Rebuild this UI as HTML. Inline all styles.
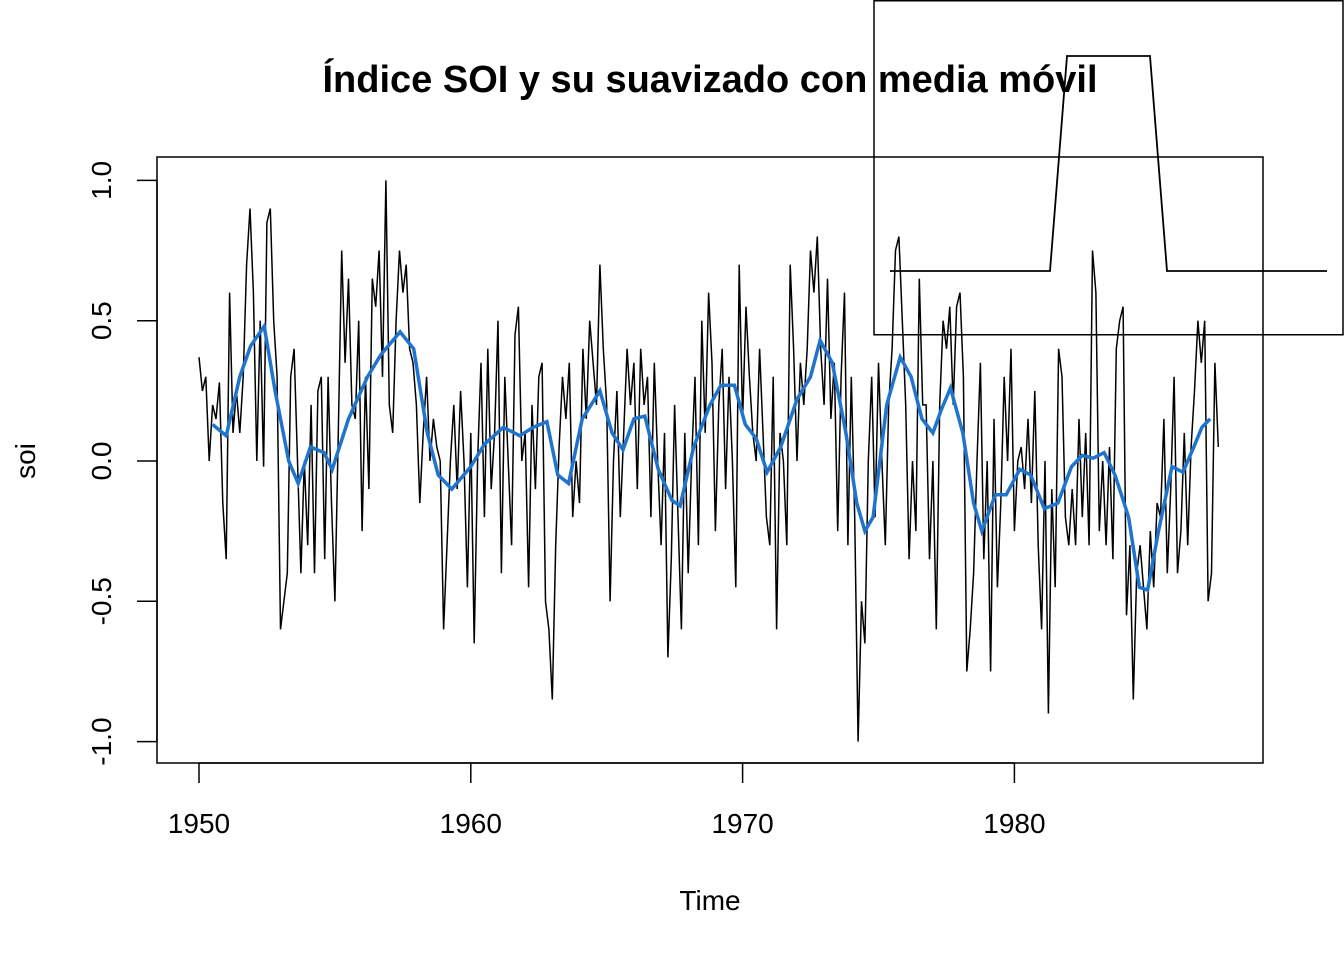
<!DOCTYPE html>
<html><head><meta charset="utf-8"><style>
html,body{margin:0;padding:0;background:#fff;}
svg{display:block;font-family:"Liberation Sans",Arial,sans-serif;}
</style></head><body>
<svg id="chart" width="1344" height="960" viewBox="0 0 1344 960" xmlns="http://www.w3.org/2000/svg">
<rect width="1344" height="960" fill="#fff"/>
<text x="710" y="92" text-anchor="middle" font-size="38" font-weight="bold">Índice SOI y su suavizado con media móvil</text>
<rect x="157" y="157" width="1106" height="606" fill="none" stroke="#000" stroke-width="1.5"/>
<g id="xaxis"></g>
<g id="yaxis"></g>
<text x="710" y="910" text-anchor="middle" font-size="28">Time</text>
<text transform="translate(35,461) rotate(-90)" text-anchor="middle" font-size="28">soi</text>
<path id="raw" fill="none" stroke="#000" stroke-width="1.5"/>
<path id="smooth" fill="none" stroke="#1f74cc" stroke-width="3.5"/>
<g>
<rect x="874" y="0.75" width="469" height="334" fill="#fff" fill-opacity="0" stroke="#000" stroke-width="1.5"/>
<polyline points="890,271 1050,271 1067,56 1150,56 1167,271 1327,271" fill="none" stroke="#000" stroke-width="1.8"/>
</g>
</svg>
<script>
const xTicks = [1950, 1960, 1970, 1980];
const yTicks = [-1.0, -0.5, 0.0, 0.5, 1.0];
const yTickLabels = ["-1.0", "-0.5", "0.0", "0.5", "1.0"];
const rawStart = 1950;
const rawStep = 0.125;
const rawValues = [
0.37,0.25,0.3,0.0,0.2,0.15,0.28,-0.15,
-0.35,0.6,0.1,0.25,0.1,0.3,0.7,0.9,
0.6,0.0,0.5,-0.02,0.85,0.9,0.5,0.3,
-0.6,-0.5,-0.4,0.3,0.4,0.0,-0.4,0.0,
-0.3,0.2,-0.4,0.25,0.3,-0.35,0.3,-0.15,
-0.5,0.1,0.75,0.35,0.65,0.2,0.15,0.5,
-0.25,0.3,-0.1,0.65,0.55,0.75,0.3,1.0,
0.2,0.1,0.5,0.75,0.6,0.7,0.4,0.35,
0.2,-0.15,0.1,0.3,0.0,0.15,0.05,0.0,
-0.6,-0.3,0.0,0.2,-0.1,0.25,0.0,-0.45,
0.1,-0.65,0.0,0.35,-0.2,0.4,-0.1,0.1,
0.5,-0.4,0.3,0.0,-0.3,0.45,0.55,0.0,
0.1,-0.45,0.2,-0.1,0.3,0.35,-0.5,-0.6,
-0.85,-0.3,0.05,0.3,0.15,0.35,-0.2,0.0,
-0.15,0.4,0.15,0.5,0.35,0.2,0.7,0.4,
0.2,-0.5,0.0,0.25,-0.2,0.1,0.4,0.2,
0.35,-0.1,0.4,0.2,0.3,-0.2,0.35,0.0,
-0.3,0.1,-0.7,-0.35,0.2,-0.2,-0.6,0.1,
-0.4,0.0,0.3,-0.3,0.5,0.1,0.6,0.35,
-0.25,0.2,0.4,-0.1,0.3,0.0,-0.45,0.7,
0.15,0.55,0.3,0.1,0.0,0.4,0.1,-0.2,
-0.3,0.3,-0.6,0.1,0.0,-0.3,0.7,0.4,
0.0,0.35,0.2,0.4,0.75,0.6,0.8,0.4,
0.2,0.65,0.15,0.35,-0.25,0.3,0.6,-0.3,
0.3,-0.2,-1.0,-0.5,-0.65,0.0,0.3,-0.2,
0.35,0.0,-0.3,0.2,0.4,0.75,0.8,0.5,
0.2,-0.35,0.0,-0.25,0.65,0.2,0.2,-0.35,
0.0,-0.6,0.2,0.5,0.4,0.55,0.2,0.55,
0.6,0.3,-0.75,-0.6,-0.4,0.0,0.35,-0.35,
0.0,-0.75,0.15,-0.45,-0.15,0.3,0.0,0.4,
-0.25,0.0,0.05,-0.1,0.15,-0.15,0.25,-0.3,
-0.6,0.0,-0.9,-0.1,-0.45,0.4,0.3,-0.2,
-0.3,-0.1,-0.3,0.15,-0.2,0.1,-0.3,0.75,
0.6,-0.25,0.0,-0.3,0.05,-0.35,0.4,0.5,
0.55,-0.55,-0.3,-0.85,-0.4,-0.3,-0.45,-0.6,
-0.25,-0.45,-0.15,-0.2,0.15,-0.4,-0.1,0.3,
-0.4,-0.25,0.1,-0.3,0.05,0.25,0.5,0.35,
0.5,-0.5,-0.4,0.35,0.05
];
const smoothYears = [1950.5,1951.0,1951.5,1951.9,1952.4,1952.8,1953.3,1953.65,1954.1,1954.6,1954.9,1955.5,1956.2,1956.7,1957.4,1957.9,1958.4,1958.8,1959.3,1960.0,1960.5,1961.2,1961.8,1962.3,1962.8,1963.2,1963.6,1964.1,1964.75,1965.2,1965.6,1966.0,1966.4,1966.9,1967.4,1967.7,1968.2,1968.8,1969.2,1969.7,1970.1,1970.5,1970.9,1971.4,1972.0,1972.5,1972.85,1973.3,1973.8,1974.2,1974.5,1974.8,1975.3,1975.8,1976.2,1976.6,1977.0,1977.3,1977.65,1978.1,1978.5,1978.8,1979.3,1979.7,1980.2,1980.6,1981.1,1981.6,1982.1,1982.5,1982.9,1983.3,1983.7,1984.2,1984.6,1984.9,1985.3,1985.8,1986.2,1986.6,1986.9,1987.2];
const smoothValues = [0.13,0.09,0.3,0.41,0.48,0.25,0.0,-0.08,0.05,0.03,-0.03,0.15,0.3,0.38,0.46,0.4,0.1,-0.05,-0.1,-0.02,0.06,0.12,0.09,0.12,0.14,-0.05,-0.08,0.15,0.25,0.1,0.04,0.15,0.16,-0.03,-0.14,-0.16,0.05,0.2,0.27,0.27,0.13,0.08,-0.04,0.05,0.22,0.3,0.43,0.35,0.1,-0.15,-0.25,-0.2,0.2,0.37,0.3,0.15,0.1,0.18,0.26,0.1,-0.15,-0.25,-0.12,-0.12,-0.03,-0.05,-0.17,-0.15,-0.02,0.02,0.01,0.03,-0.05,-0.2,-0.45,-0.46,-0.25,-0.02,-0.04,0.05,0.12,0.15];

const NS = "http://www.w3.org/2000/svg";
function xScale(t){ return 199 + (t - 1950) * 27.18; }
function yScale(v){ return 461 - v * 280.6; }

const xg = document.getElementById('xaxis');
const xl = document.createElementNS(NS,'line');


xl.setAttribute('x1', xScale(xTicks[0])); xl.setAttribute('x2', xScale(xTicks[xTicks.length-1]));
xl.setAttribute('y1', 763); xl.setAttribute('y2', 763); xl.setAttribute('stroke', '#000'); xl.setAttribute('stroke-width', '1.5');
xg.appendChild(xl);
xTicks.forEach(function(t){
  const tk = document.createElementNS(NS,'line');
  
  
  tk.setAttribute('x1', xScale(t)); tk.setAttribute('x2', xScale(t));
  tk.setAttribute('y1', 763); tk.setAttribute('y2', 783); tk.setAttribute('stroke', '#000'); tk.setAttribute('stroke-width', '1.5');
  xg.appendChild(tk);
  const tx = document.createElementNS(NS,'text');
  
  
  tx.setAttribute('x', xScale(t)); tx.setAttribute('y', 833);
  tx.setAttribute('text-anchor', 'middle'); tx.setAttribute('font-size', '28');
  tx.textContent = t;
  xg.appendChild(tx);
});

const yg = document.getElementById('yaxis');
const yl = document.createElementNS(NS,'line');


yl.setAttribute('x1', 157); yl.setAttribute('x2', 157);
yl.setAttribute('y1', yScale(yTicks[0])); yl.setAttribute('y2', yScale(yTicks[yTicks.length-1]));
yl.setAttribute('stroke', '#000'); yl.setAttribute('stroke-width', '1.5');
yg.appendChild(yl);
yTicks.forEach(function(v, i){
  const tk = document.createElementNS(NS,'line');
  
  
  tk.setAttribute('x1', 137); tk.setAttribute('x2', 157);
  tk.setAttribute('y1', yScale(v)); tk.setAttribute('y2', yScale(v)); tk.setAttribute('stroke', '#000'); tk.setAttribute('stroke-width', '1.5');
  yg.appendChild(tk);
  const tx = document.createElementNS(NS,'text');
  
  
  tx.setAttribute('transform', 'translate(111,' + yScale(v) + ') rotate(-90)');
  tx.setAttribute('text-anchor', 'middle'); tx.setAttribute('font-size', '28');
  tx.textContent = yTickLabels[i];
  yg.appendChild(tx);
});

let d = '';
rawValues.forEach(function(v, i){
  d += (i ? 'L' : 'M') + xScale(rawStart + i * rawStep).toFixed(1) + ',' + yScale(v).toFixed(1);
});
document.getElementById('raw').setAttribute('d', d);

let ds = '';
smoothValues.forEach(function(v, i){
  ds += (i ? 'L' : 'M') + xScale(smoothYears[i]).toFixed(1) + ',' + yScale(v).toFixed(1);
});
document.getElementById('smooth').setAttribute('d', ds);
</script>
</body></html>
